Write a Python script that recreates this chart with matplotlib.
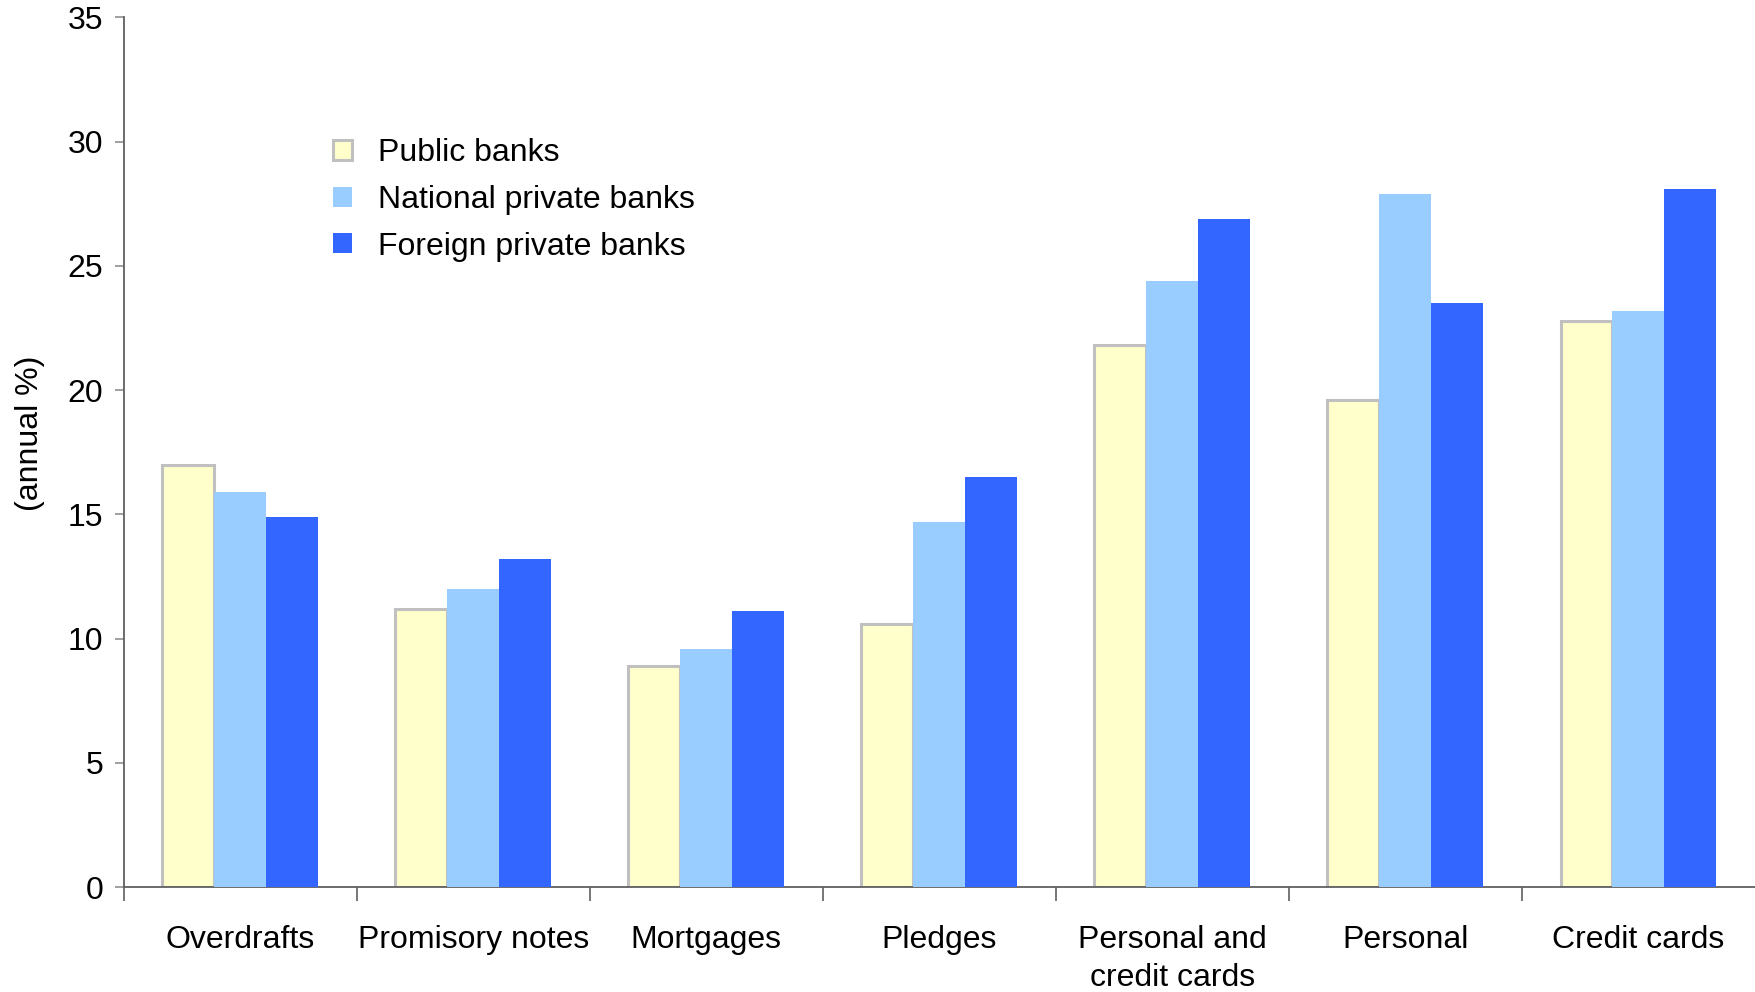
import matplotlib
matplotlib.use("Agg")
import matplotlib.pyplot as plt
import numpy as np
from matplotlib.patches import Patch

plt.rcParams['font.family'] = ['Liberation Sans', 'DejaVu Sans']

# ---------------------------------------------------------
# Data: average lending rates by product and bank type
# ---------------------------------------------------------
categories = ["Overdrafts", "Promisory notes", "Mortgages", "Pledges",
              "Personal and\ncredit cards", "Personal", "Credit cards"]
public_banks = [17.0, 11.2, 8.9, 10.6, 21.8, 19.6, 22.8]
national_private_banks = [15.9, 12.0, 9.6, 14.7, 24.4, 27.9, 23.2]
foreign_private_banks = [14.9, 13.2, 11.1, 16.5, 26.9, 23.5, 28.1]

series_labels = ["Public banks", "National private banks", "Foreign private banks"]
y_ticks = [0, 5, 10, 15, 20, 25, 30, 35]

# ---------------------------------------------------------
# Styling
# ---------------------------------------------------------
FONT_SIZE = 23
AXIS_COLOR = "#606060"
colors = ["#FFFFCC", "#99CCFF", "#3366FF"]
edge_colors = ["#C0C0C0", "none", "none"]
BAR_WIDTH = 0.223

fig = plt.figure(figsize=(17.55, 9.92), dpi=100)
ax = fig.add_axes([0.0704, 0.1058, 0.9296, 0.8766])

x = np.arange(len(categories))
series = [public_banks, national_private_banks, foreign_private_banks]
for i, values in enumerate(series):
    ax.bar(x + (i - 1) * BAR_WIDTH, values, width=BAR_WIDTH,
           color=colors[i], edgecolor=edge_colors[i],
           linewidth=2.2 if i == 0 else 0, zorder=2 if i == 0 else 3)

ax.set_xlim(-0.5, len(categories) - 0.5)
ax.set_ylim(0, 35)

# spines
for side in ("top", "right"):
    ax.spines[side].set_visible(False)
for side in ("left", "bottom"):
    ax.spines[side].set_color(AXIS_COLOR)
    ax.spines[side].set_linewidth(1.3)

# y axis
ax.set_yticks(y_ticks)
ax.tick_params(axis="y", direction="out", length=6.5, width=1.2,
               color="#909090", pad=8, labelsize=FONT_SIZE)
ax.set_ylabel("(annual %)", fontsize=FONT_SIZE)
ax.yaxis.set_label_coords(-0.048, 0.522)

# x axis: boundary ticks as major, category names as minor labels
ax.set_xticks(np.arange(len(categories)) - 0.5)
ax.set_xticklabels([])
ax.tick_params(axis="x", which="major", direction="out", length=10,
               width=1.2, color=AXIS_COLOR)
ax.set_xticks(x, minor=True)
ax.set_xticklabels(categories, minor=True, fontsize=FONT_SIZE,
                   linespacing=1.35)
ax.tick_params(axis="x", which="minor", length=0, pad=27.5)

# legend
handles = [Patch(facecolor=colors[0], edgecolor="#C0C0C0", linewidth=2.2),
           Patch(facecolor=colors[1], edgecolor="none"),
           Patch(facecolor=colors[2], edgecolor="none")]
ax.legend(handles, series_labels, loc="upper left",
          bbox_to_anchor=(0.1285, 0.861), frameon=False, fontsize=FONT_SIZE,
          handlelength=0.6, handleheight=0.6, handletextpad=0.8,
          labelspacing=0.52, borderpad=0, borderaxespad=0)

fig.savefig("out.png", dpi=100)
plt.close("all")
